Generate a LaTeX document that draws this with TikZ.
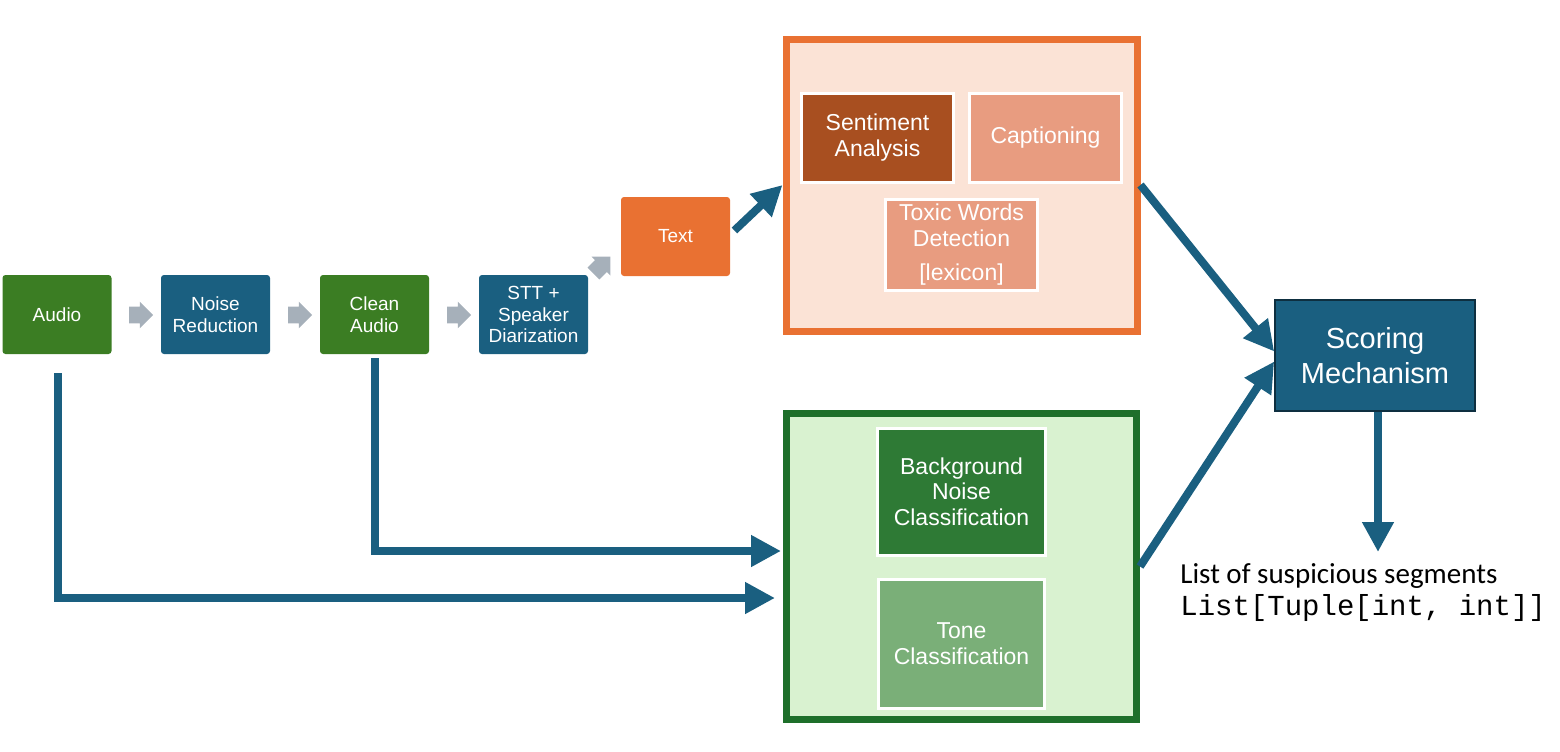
\documentclass[tikz,border=0pt]{standalone}
\usepackage{fontspec}
\setmainfont{Liberation Sans}
\setmonofont{Liberation Mono}
\newfontfamily\labelfont{Carlito}
\usepackage{xcolor}
\usetikzlibrary{arrows.meta,shapes.arrows}

\definecolor{flowblue}{HTML}{1A5F80}
\definecolor{audiogreen}{HTML}{3B7D23}
\definecolor{textorange}{HTML}{E97132}
\definecolor{orangefill}{HTML}{FBE3D6}
\definecolor{sentbrown}{HTML}{A84F20}
\definecolor{salmon}{HTML}{E89C80}
\definecolor{greenline}{HTML}{1E6F2A}
\definecolor{greenfill}{HTML}{D9F2D0}
\definecolor{noisegreen}{HTML}{2E7A35}
\definecolor{tonegreen}{HTML}{7AAF78}
\definecolor{chevgray}{HTML}{A6B0BA}
\definecolor{scoreline}{HTML}{0E2F40}

\begin{document}
\begin{tikzpicture}[
    x=0.5pt,
    y=-0.5pt,
    step box/.style={rectangle, rounded corners=1.5pt, minimum width=54.5pt, minimum height=39.5pt, inner sep=1pt, align=center, text=white, font=\fontsize{9.5}{10.9}\selectfont},
    greenstep/.style={step box, fill=audiogreen},
    bluestep/.style={step box, fill=flowblue},
    orangestep/.style={step box, fill=textorange},
    chevron/.style={single arrow, fill=chevgray, draw=none, inner xsep=0pt, inner ysep=4pt, text height=0pt, text depth=0pt, text width=0pt, minimum height=12pt, single arrow head extend=2.5pt, single arrow head indent=0pt},
    group/.style={rectangle, line width=3.5pt, inner sep=0pt},
    task/.style={rectangle, draw=white, line width=1.5pt, inner sep=1pt, align=center, text=white, font=\fontsize{11.5}{12.8}\selectfont},
    arrow/.style={-{Triangle[length=15pt, width=15pt]}, line width=4pt, draw=flowblue}
]
\useasboundingbox (0,0) rectangle (1560,751);

% Audio pipeline
\node[greenstep] (audio) at (57,314.5) {Audio};
\node[bluestep] (noise) at (215.5,314.5) {Noise\\Reduction};
\node[greenstep] (clean) at (374.5,314.5) {Clean\\Audio};
\node[bluestep] (stt) at (533.5,314.5) {STT +\\Speaker\\Diarization};
\node[orangestep] (text) at (675.5,236.5) {Text};

% Step chevrons
\node[chevron] (chev1) at (137,315) {};
\node[chevron] (chev2) at (296,315) {};
\node[chevron] (chev3) at (455,315) {};
\node[chevron, rotate=45] (chev4) at (599,268) {};

% Text analysis group
\node[group, draw=textorange, fill=orangefill, minimum width=175.5pt, minimum height=146pt] (textgroup) at (961.5,185) {};
\node[task, fill=sentbrown, minimum width=76pt, minimum height=44.5pt] (sentiment) at (877.5,137.5) {Sentiment\\Analysis};
\node[task, fill=salmon, minimum width=76pt, minimum height=44.5pt] (caption) at (1045.5,137.5) {Captioning};
\node[task, fill=salmon, minimum width=76pt, minimum height=45.5pt] (toxic) at (961.5,244.5) {Toxic Words\\Detection\\[4pt][lexicon]};

% Sound analysis group
\node[group, draw=greenline, fill=greenfill, minimum width=175pt, minimum height=153pt] (soundgroup) at (961.5,566.5) {};
\node[task, fill=noisegreen, minimum width=84pt, minimum height=63.5pt] (background) at (961.5,491.5) {Background\\Noise\\Classification};
\node[task, fill=tonegreen, minimum width=83pt, minimum height=64.5pt] (tone) at (961.5,643.5) {Tone\\Classification};

% Scoring
\node[rectangle, draw=scoreline, line width=0.8pt, fill=flowblue, minimum width=100pt, minimum height=55.5pt, align=center, text=white, font=\fontsize{14.5}{17.5}\selectfont] (scoring) at (1375,355.5) {Scoring\\Mechanism};
\node[anchor=north west, align=left, inner sep=0pt] (result) at (1180,563) {{\labelfont\fontsize{14.5}{16}\selectfont List of suspicious segments}\\[2pt]{\ttfamily\fontsize{14.5}{16}\selectfont List[Tuple[int, int]]}};
\coordinate (outend) at (1378,552);

% Data flow
\draw[arrow] ([xshift=2pt,yshift=3pt]text.east) -- (textgroup.west);
\draw[arrow] ([yshift=-2pt]clean.south) |- ([xshift=-1pt,yshift=7.75pt]soundgroup.west);
\draw[arrow] ([xshift=0.5pt,yshift=-9.5pt]audio.south) |- ([xshift=-4pt,yshift=-15.75pt]soundgroup.west);
\draw[arrow] (textgroup.east) -- ([yshift=2pt]scoring.west);
\draw[arrow] (soundgroup.east) -- ([yshift=-3pt]scoring.west);
\draw[arrow] ([xshift=1.5pt]scoring.south) -- (outend);

\end{tikzpicture}
\end{document}
